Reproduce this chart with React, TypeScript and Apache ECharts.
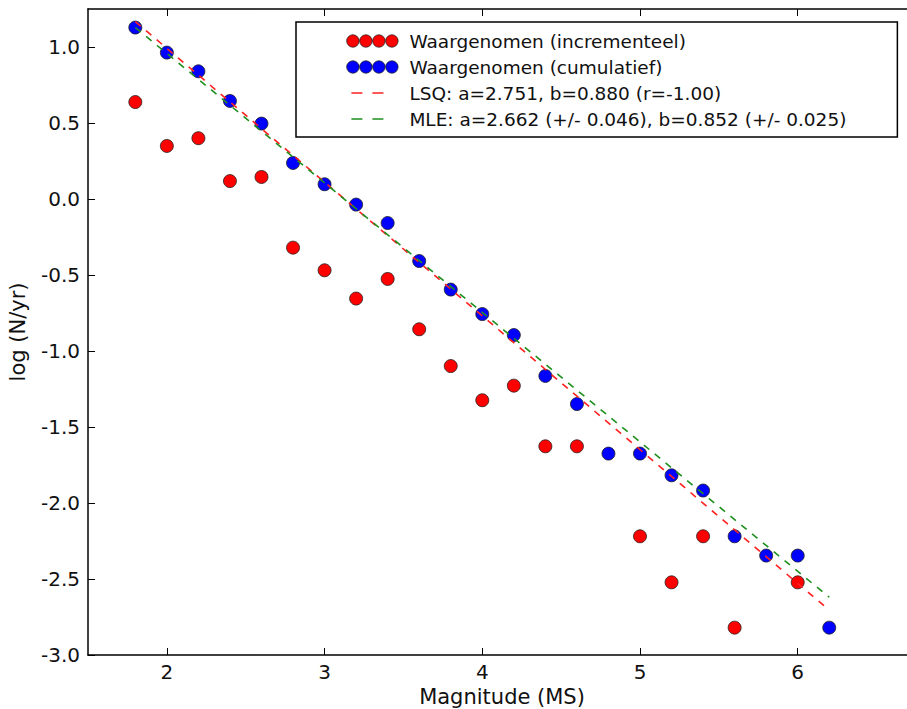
import React, { useEffect, useRef } from 'react';
import * as echarts from 'echarts';

// ---- data ----
const magnitudes = [1.8, 2.0, 2.2, 2.4, 2.6, 2.8, 3.0, 3.2, 3.4, 3.6, 3.8, 4.0, 4.2, 4.4, 4.6, 4.8, 5.0, 5.2, 5.4, 5.6, 5.8, 6.0, 6.2];
const incremental: (number | null)[] = [0.638, 0.349, 0.40, 0.118, 0.145, -0.32, -0.469, -0.655, -0.526, -0.857, -1.099, -1.324, -1.228, -1.627, -1.627, null, -2.219, -2.522, -2.219, -2.82, null, -2.522, null];
const cumulative: (number | null)[] = [1.128, 0.963, 0.84, 0.645, 0.496, 0.237, 0.097, -0.037, -0.158, -0.408, -0.596, -0.757, -0.895, -1.164, -1.349, -1.675, -1.675, -1.818, -1.918, -2.219, -2.346, -2.346, -2.82];
const fitMagnitudes = [1.8, 6.2];
const lsqFit = [1.167, -2.705];
const mleFit = [1.128, -2.62];

const xTicks = [2, 3, 4, 5, 6];
const yTicks = [-3.0, -2.5, -2.0, -1.5, -1.0, -0.5, 0.0, 0.5, 1.0];

const seriesNames = [
  'Waargenomen (incrementeel)',
  'Waargenomen (cumulatief)',
  'LSQ: a=2.751, b=0.880 (r=-1.00)',
  'MLE: a=2.662 (+/- 0.046), b=0.852 (+/- 0.025)',
];
const colors = ['#ff0000', '#0000ff', '#ff2020', '#1f8f1f'];

const FONT = 'DejaVu Sans';

const pairs = (xs: number[], ys: (number | null)[]) =>
  xs.map((x, i) => [x, ys[i]]).filter((d) => d[1] !== null);

// legend icons (58 x 13 box)
const fourDots =
  'path://M0,0 M58,13 ' +
  [6.5, 19.5, 32.5, 45.5]
    .map((c) => `M${c - 6.2},6.5 A6.2,6.2 0 1,1 ${c + 6.2},6.5 A6.2,6.2 0 1,1 ${c - 6.2},6.5 Z`)
    .join(' ');
const twoDashes =
  'path://M0,0 M58,13 M5,5.75 L16,5.75 L16,7.25 L5,7.25 Z M26,5.75 L37,5.75 L37,7.25 L26,7.25 Z';

export default function App() {
  const ref = useRef<HTMLDivElement>(null);
  useEffect(() => {
    if (!ref.current) return;
    const chart = echarts.init(ref.current, undefined, { renderer: 'svg' });
    const axisLine = { show: true, onZero: false, lineStyle: { color: '#000', width: 1.5 } };
    const tickStyle = { color: '#000', width: 1 };
    chart.setOption({
      animation: false,
      backgroundColor: '#fff',
      grid: { left: 88, top: 9, bottom: 54, right: 24, containLabel: false, outerBoundsMode: 'none' },
      legend: {
        orient: 'vertical',
        left: 296,
        top: 22,
        padding: [9, 51, 8, 50],
        itemWidth: 58,
        itemHeight: 13,
        itemGap: 6,
        backgroundColor: '#fff',
        borderColor: '#000',
        borderWidth: 1.5,
        textStyle: { fontFamily: FONT, fontSize: 18.5, color: '#111', lineHeight: 20 },
        selectedMode: false,
        data: [
          { name: seriesNames[0], icon: fourDots, itemStyle: { color: colors[0], borderColor: '#222', borderWidth: 0.8 } },
          { name: seriesNames[1], icon: fourDots, itemStyle: { color: colors[1], borderColor: '#222', borderWidth: 0.8 } },
          { name: seriesNames[2], icon: twoDashes, itemStyle: { color: colors[2], borderWidth: 0, borderColor: 'transparent', borderType: 'solid' } },
          { name: seriesNames[3], icon: twoDashes, itemStyle: { color: colors[3], borderWidth: 0, borderColor: 'transparent', borderType: 'solid' } },
        ],
      },
      xAxis: [
        {
          type: 'value',
          position: 'bottom',
          min: 1.5,
          max: 6.75,
          splitLine: { show: false },
          axisLine,
          axisTick: { show: true, inside: true, length: 7, customValues: xTicks, lineStyle: tickStyle },
          axisLabel: { customValues: xTicks, margin: 7, fontSize: 20, fontFamily: FONT, color: '#111' },
          name: 'Magnitude (MS)',
          nameLocation: 'middle',
          nameGap: 30,
          nameTextStyle: { fontSize: 21, fontFamily: FONT, color: '#111' },
        },
        {
          type: 'value',
          position: 'top',
          min: 1.5,
          max: 6.75,
          splitLine: { show: false },
          axisLine,
          axisTick: { show: true, inside: true, length: 7, customValues: xTicks, lineStyle: tickStyle },
          axisLabel: { show: false },
        },
      ],
      yAxis: [
        {
          type: 'value',
          position: 'left',
          min: -3,
          max: 1.25,
          splitLine: { show: false },
          axisLine,
          axisTick: { show: true, inside: true, length: 7, customValues: yTicks, lineStyle: tickStyle },
          axisLabel: {
            customValues: yTicks,
            margin: 8,
            fontSize: 20,
            fontFamily: FONT,
            color: '#111',
            formatter: (v: number) => v.toFixed(1),
          },
          name: 'log (N/yr)',
          nameLocation: 'middle',
          nameGap: 60,
          nameRotate: 90,
          nameTextStyle: { fontSize: 21, fontFamily: FONT, color: '#111' },
        },
      ],
      series: [
        {
          name: seriesNames[0],
          type: 'scatter',
          data: pairs(magnitudes, incremental),
          symbol: 'circle',
          symbolSize: 13,
          itemStyle: { color: colors[0], borderColor: '#222', borderWidth: 0.8, opacity: 1 },
          z: 2,
        },
        {
          name: seriesNames[1],
          type: 'scatter',
          data: pairs(magnitudes, cumulative),
          symbol: 'circle',
          symbolSize: 13,
          itemStyle: { color: colors[1], borderColor: '#222', borderWidth: 0.8, opacity: 1 },
          z: 2,
        },
        {
          name: seriesNames[2],
          type: 'line',
          data: pairs(fitMagnitudes, lsqFit),
          showSymbol: false,
          symbol: 'none',
          lineStyle: { color: colors[2], width: 1.6, type: [7, 7] },
          itemStyle: { color: colors[2] },
          z: 3,
        },
        {
          name: seriesNames[3],
          type: 'line',
          data: pairs(fitMagnitudes, mleFit),
          showSymbol: false,
          symbol: 'none',
          lineStyle: { color: colors[3], width: 1.6, type: [7, 7] },
          itemStyle: { color: colors[3] },
          z: 4,
        },
      ],
    });
    return () => chart.dispose();
  }, []);
  return (
    <div
      style={{ position: 'fixed', left: 0, top: 0, width: 907, height: 709, overflow: 'hidden', background: '#fff' }}
    >
      <div ref={ref} style={{ width: 940, height: 709 }} />
    </div>
  );
}
